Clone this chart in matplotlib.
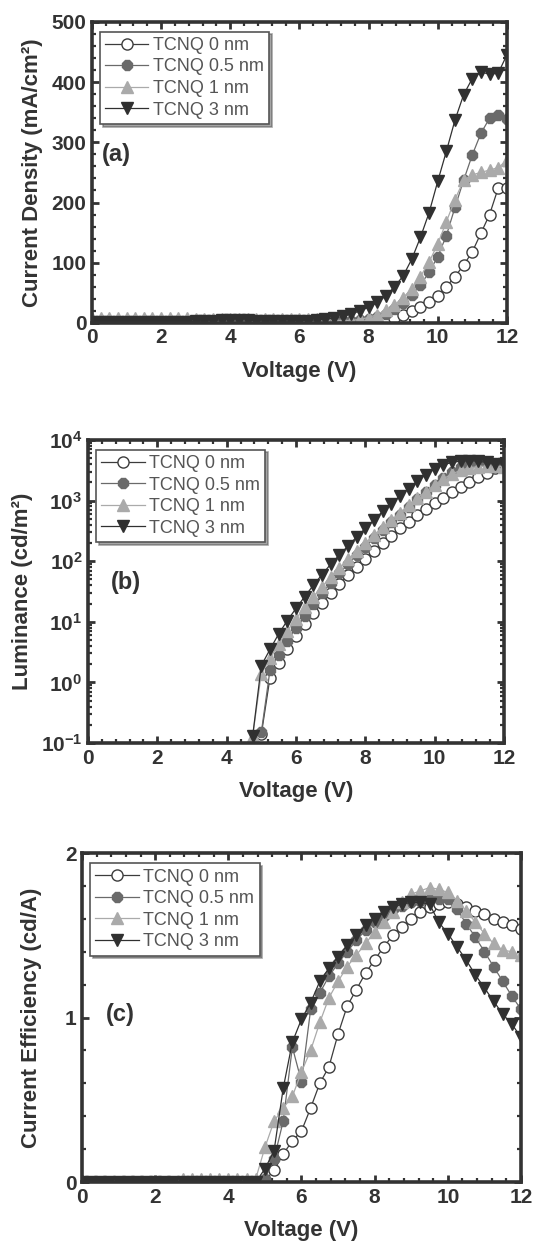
import numpy as np
import matplotlib
matplotlib.use("Agg")
import matplotlib.pyplot as plt
from matplotlib.ticker import MultipleLocator, LogLocator, NullFormatter

plt.rcParams['font.family'] = ['Liberation Sans', 'DejaVu Sans']
plt.rcParams['mathtext.fontset'] = 'custom'
plt.rcParams['mathtext.rm'] = 'Liberation Sans:bold'
plt.rcParams['mathtext.bf'] = 'Liberation Sans:bold'
plt.rcParams['mathtext.default'] = 'bf'

# voltage sweep, 0.25 V steps
volts = np.linspace(0, 12, 49)

labels = ["TCNQ 0 nm", "TCNQ 0.5 nm", "TCNQ 1 nm", "TCNQ 3 nm"]

# (a) current density, mA/cm2
j_0nm = [1, 1, 1, 1, 1, 1, 1, 1, 1, 1, 1, 1, 2, 2, 2, 2, 2, 2, 1, 1, 1, 1, 1, 1, 1, 1, 1, 1,
         1, 1, 1, 2, 2, 3, 5, 8, 13, 19, 27, 35, 44, 60, 77, 96, 118, 149, 180, 224, 224]
j_05nm = [2, 2, 2, 2, 2, 2, 2, 2, 2, 2, 2, 2, 3, 3, 4, 4, 5, 5, 4, 4, 3, 3, 3, 3, 3, 3, 3, 3,
          3, 3, 4, 5, 6, 10, 15, 23, 33, 46, 63, 84, 110, 145, 192, 237, 279, 315, 340, 345, 338]
j_1nm = [8, 8, 8, 8, 8, 8, 8, 8, 8, 8, 8, 8, 7, 7, 7, 7, 7, 7, 7, 7, 7, 7, 7, 7, 7, 7, 6, 6,
         5, 4, 4, 6, 9, 14, 21, 30, 42, 57, 77, 101, 131, 168, 205, 237, 246, 250, 254, 258, 270]
j_3nm = [2, 2, 2, 2, 2, 2, 2, 2, 2, 2, 2, 2, 3, 3, 4, 5, 5, 5, 5, 4, 3, 3, 3, 3, 4, 4, 5, 6,
         8, 11, 15, 20, 26, 34, 45, 60, 78, 106, 142, 183, 235, 285, 337, 379, 406, 417, 413, 415, 445]

# (b) luminance, cd/m2 (first visible point of each curve)
lum_start = [5.0, 5.0, 4.75, 4.75]
lum_0nm = [0.14, 1.2, 2.1, 3.5, 5.8, 9.1, 13.8, 20.4, 29.5, 41.7, 58.9, 81.3, 110, 148, 200,
           263, 347, 447, 575, 724, 912, 1120, 1380, 1700, 2040, 2450, 2880, 3390, 3800]
lum_05nm = [0.15, 1.6, 2.8, 4.8, 7.9, 12.6, 19.5, 29.5, 43.7, 63, 89, 126, 174, 240, 324,
            437, 589, 794, 1050, 1380, 1820, 2340, 2950, 3550, 4070, 4270, 4170, 3980, 3800]
lum_1nm = [0.13, 1.4, 2.5, 4.3, 7.1, 11.2, 17.4, 26, 38, 55, 78, 107, 148, 200, 269, 363,
           479, 631, 832, 1100, 1410, 1820, 2290, 2750, 3160, 3470, 3630, 3720, 3720, 3630]
lum_3nm = [0.13, 1.9, 3.5, 6.3, 10.5, 16.6, 26, 40, 60, 89, 126, 178, 251, 347, 479, 661,
           891, 1200, 1580, 2090, 2690, 3310, 3890, 4270, 4470, 4570, 4470, 4270, 4070, 3980]

# (c) current efficiency, cd/A
eff_0nm = [0, 0, 0, 0, 0, 0, 0, 0, 0, 0, 0, 0, 0, 0, 0, 0, 0, 0, 0, 0,
           0.01, 0.07, 0.17, 0.25, 0.31, 0.45, 0.60, 0.70, 0.90, 1.07, 1.17, 1.27, 1.35, 1.43,
           1.50, 1.55, 1.60, 1.64, 1.67, 1.69, 1.70, 1.69, 1.67, 1.65, 1.63, 1.60, 1.58, 1.56, 1.54]
eff_05nm = [0, 0, 0, 0, 0, 0, 0, 0, 0, 0, 0, 0, 0, 0, 0, 0, 0, 0, 0, 0,
            0.02, 0.14, 0.37, 0.82, 0.61, 1.05, 1.15, 1.25, 1.33, 1.40, 1.47, 1.53, 1.58, 1.62,
            1.66, 1.68, 1.70, 1.71, 1.72, 1.72, 1.72, 1.66, 1.57, 1.49, 1.40, 1.31, 1.22, 1.13, 1.05]
eff_1nm = [0, 0, 0, 0, 0, 0, 0, 0, 0, 0, 0, 0.02, 0.02, 0.02, 0.02, 0.02, 0.02, 0.02, 0.02, 0.02,
           0.21, 0.37, 0.45, 0.52, 0.67, 0.80, 0.97, 1.12, 1.22, 1.31, 1.38, 1.45, 1.52, 1.58,
           1.64, 1.70, 1.75, 1.77, 1.79, 1.78, 1.76, 1.71, 1.65, 1.58, 1.51, 1.45, 1.41, 1.40, 1.38]
eff_3nm = [0, 0, 0, 0, 0, 0, 0, 0, 0, 0, 0, 0, 0, 0, 0, 0, 0, 0, 0, 0,
           0.08, 0.19, 0.57, 0.85, 0.99, 1.09, 1.22, 1.30, 1.37, 1.44, 1.50, 1.56, 1.60, 1.64,
           1.67, 1.69, 1.70, 1.70, 1.69, 1.58, 1.51, 1.43, 1.35, 1.26, 1.18, 1.10, 1.02, 0.96, 0.88]

# marker styles: open circle, filled octagon, pale triangle, dark down-triangle
styles = [
    dict(marker='o', mfc='white', mec='#3c3c3c', color='#3c3c3c', ms=8, mew=1.0),
    dict(marker='8', mfc='#6a6a6a', mec='#6a6a6a', color='#6a6a6a', ms=8.5),
    dict(marker='^', mfc='#aaaaaa', mec='#aaaaaa', color='#aaaaaa', ms=9),
    dict(marker='v', mfc='#303030', mec='#303030', color='#303030', ms=9),
]

DARK = '#333333'


def style_axes(ax):
    for s in ax.spines.values():
        s.set_linewidth(2.6)
        s.set_color(DARK)
    ax.tick_params(which='both', direction='in', top=True, right=True, colors=DARK,
                   labelsize=15, pad=4)
    ax.tick_params(which='major', length=5, width=2)
    ax.tick_params(which='minor', length=3, width=1.6)
    for lab in ax.get_xticklabels() + ax.get_yticklabels():
        lab.set_fontweight('bold')
    ax.set_xlim(0, 12)
    ax.xaxis.set_major_locator(MultipleLocator(2))
    ax.xaxis.set_minor_locator(MultipleLocator(0.4))
    ax.set_xlabel("Voltage (V)", fontsize=16, fontweight='bold', color=DARK, labelpad=10)


def add_legend(ax):
    leg = ax.legend(loc='upper left', bbox_to_anchor=(0.01, 0.98), fontsize=13,
                    frameon=True, fancybox=False, shadow=True, borderpad=0.3,
                    handlelength=2.4, handletextpad=0.25, labelspacing=0.25,
                    borderaxespad=0.2)
    leg.get_frame().set_edgecolor('#555555')
    leg.get_frame().set_linewidth(1.2)
    for t in leg.get_texts():
        t.set_color('#555555')


fig = plt.figure(figsize=(5.36, 12.6), dpi=100)

# (a) current density
ax1 = fig.add_axes([0.1716, 0.7437, 0.774, 0.2389])
for y, lab, st in zip([j_0nm, j_05nm, j_1nm, j_3nm], labels, styles):
    ax1.plot(volts, y, lw=0.9, label=lab, **st)
ax1.set_ylim(0, 500)
ax1.yaxis.set_major_locator(MultipleLocator(100))
ax1.yaxis.set_minor_locator(MultipleLocator(20))
ax1.set_ylabel("Current Density (mA/cm²)", fontsize=16, fontweight='bold', color=DARK,
               labelpad=6)
style_axes(ax1)
add_legend(ax1)
ax1.text(0.025, 0.56, "(a)", transform=ax1.transAxes, fontsize=17, fontweight='bold',
         color=DARK, va='center')

# (b) luminance
ax2 = fig.add_axes([0.1642, 0.4103, 0.776, 0.2405])
for y, v0, lab, st in zip([lum_0nm, lum_05nm, lum_1nm, lum_3nm], lum_start, labels, styles):
    v = volts[volts >= v0 - 1e-9][:len(y)]
    ax2.plot(v, y, lw=0.9, label=lab, **st)
ax2.set_yscale('log')
ax2.set_ylim(0.1, 1e4)
ax2.yaxis.set_major_locator(LogLocator(base=10, numticks=10))
ax2.yaxis.set_minor_locator(LogLocator(base=10, subs=np.arange(2, 10), numticks=20))
ax2.yaxis.set_minor_formatter(NullFormatter())
ax2.set_ylabel("Luminance (cd/m²)", fontsize=16, fontweight='bold', color=DARK, labelpad=6)
style_axes(ax2)
add_legend(ax2)
ax2.text(0.055, 0.53, "(b)", transform=ax2.transAxes, fontsize=17, fontweight='bold',
         color=DARK, va='center')

# (c) current efficiency
ax3 = fig.add_axes([0.153, 0.0619, 0.819, 0.2611])
for y, lab, st in zip([eff_0nm, eff_05nm, eff_1nm, eff_3nm], labels, styles):
    ax3.plot(volts, y, lw=0.9, label=lab, **st)
ax3.set_ylim(0, 2)
ax3.yaxis.set_major_locator(MultipleLocator(1))
ax3.yaxis.set_minor_locator(MultipleLocator(0.2))
ax3.set_ylabel("Current Efficiency (cd/A)", fontsize=16, fontweight='bold', color=DARK,
               labelpad=16)
style_axes(ax3)
add_legend(ax3)
ax3.text(0.055, 0.51, "(c)", transform=ax3.transAxes, fontsize=17, fontweight='bold',
         color=DARK, va='center')

fig.savefig("out.png", dpi=100)
